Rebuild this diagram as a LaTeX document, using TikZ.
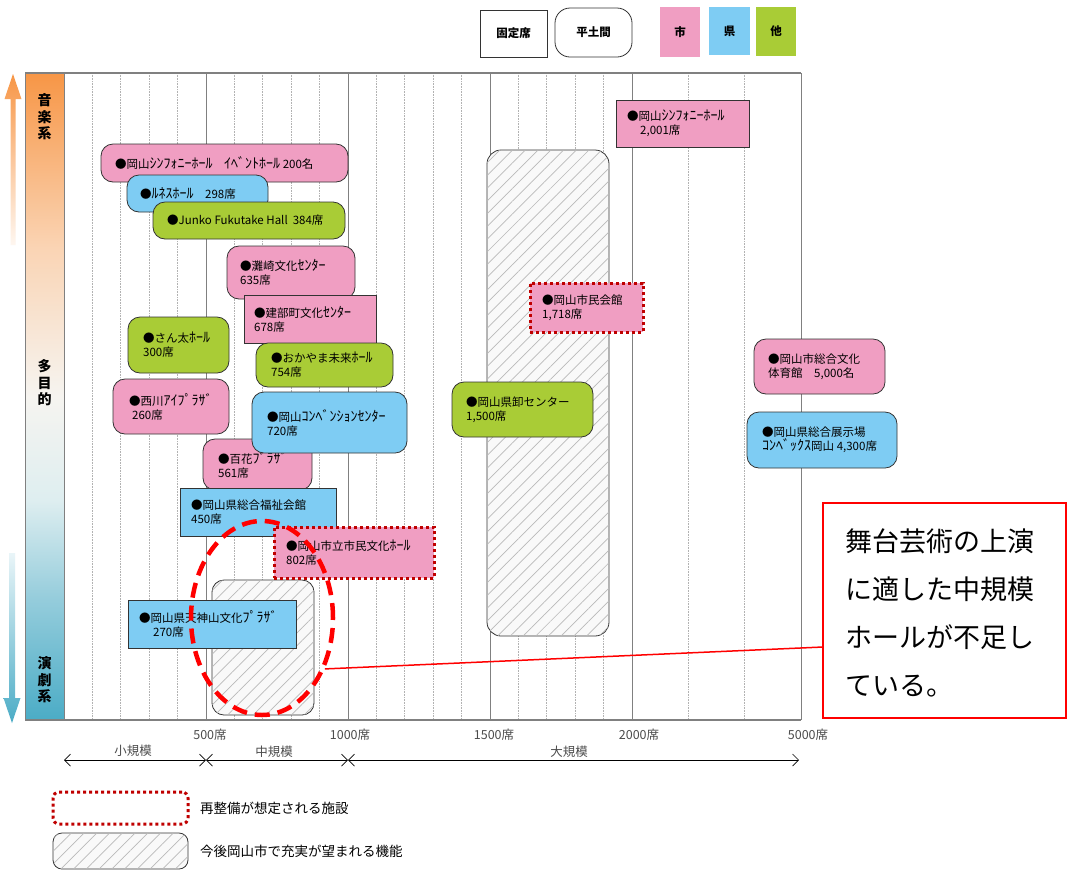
\documentclass[tikz,border=0pt]{standalone}
\usepackage{fontspec}
\setmainfont{Noto Sans CJK JP}
\usetikzlibrary{shapes.geometric,arrows.meta,patterns.meta}
\definecolor{pinkc}{RGB}{240,158,194}
\definecolor{bluec}{RGB}{126,204,243}
\definecolor{greenc}{RGB}{169,204,54}
\definecolor{dred}{RGB}{192,0,0}
\definecolor{orangec}{RGB}{247,150,70}
\definecolor{peachl}{RGB}{250,212,180}
\definecolor{bandw}{RGB}{246,244,240}
\definecolor{teall}{RGB}{222,238,240}
\definecolor{tealm}{RGB}{150,205,220}
\definecolor{tealc}{RGB}{75,172,198}
\pgfdeclareverticalshading{bandshade}{100bp}{color(0bp)=(tealc); color(25bp)=(tealc); color(34.5bp)=(tealm); color(42bp)=(teall); color(50bp)=(bandw); color(61.5bp)=(peachl); color(75bp)=(orangec); color(100bp)=(orangec)}
\tikzset{
  base/.style={draw=black!80, line width=0.8pt, inner sep=0pt, outer sep=0pt},
  pinkr/.style={base, fill=pinkc, rounded corners=12pt},
  bluer/.style={base, fill=bluec, rounded corners=12pt},
  greenr/.style={base, fill=greenc, rounded corners=12pt},
  pinks/.style={base, fill=pinkc},
  blues/.style={base, fill=bluec},
  redot/.style={base, fill=pinkc, draw=dred, line width=3pt, dash pattern=on 3pt off 3pt},
  hatchbox/.style={base, fill=gray!5, rounded corners=12pt,
     postaction={pattern={Lines[angle=45,distance=9pt,line width=0.7pt]}, pattern color=gray!55}},
  lbl/.style={font=\fontsize{11.5}{14}\selectfont, align=left, inner sep=0pt, anchor=west},
  leglbl/.style={font=\fontsize{13.5}{15}\selectfont, inner sep=0pt, anchor=west},
  gridd/.style={draw=gray!60, line width=0.7pt, dash pattern=on 0.8pt off 0.8pt},
  grids/.style={draw=gray, line width=1pt},
  axlbl/.style={font=\fontsize{12.5}{14}\selectfont, text=black!70, inner sep=0pt},
  barb/.style={{Straight Barb[length=6pt,width=12pt]}-{Straight Barb[length=6pt,width=12pt]}, line width=0.7pt},
  legsq/.style={inner sep=0pt, font=\bfseries\fontsize{11.5}{13}\selectfont},
  bandlbl/.style={font=\bfseries\fontsize{14}{16.5}\selectfont, align=center, inner sep=0pt}
}
% half-width katakana run, set a little larger
\newcommand\hk[1]{{\fontsize{14}{14}\selectfont #1}}
% name, style, x1, y1, x2, y2, text-x, text
\newcommand\hall[8]{%
  \node[#2, minimum width={#5-#3}, minimum height={#6-#4}] (#1) at ({(#3+#5)/2},{(#4+#6)/2}) {};
  \node[lbl] (#1t) at (#7,{(#4+#6)/2}) {#8};}
\begin{document}
\begin{tikzpicture}[x=1pt,y=-1pt]
\useasboundingbox[fill=white] (0,0) rectangle (1067,879);
% top legend
\node[base, minimum width=67, minimum height=47, legsq] (lgf) at (513.5,33.5) {固定席};
\node[base, rounded corners=15pt, minimum width=77, minimum height=49, legsq] (lgh) at (593.5,32.5) {平土間};
\node[legsq, fill=pinkc, minimum width=40, minimum height=50] (lgc) at (680,32) {市};
\node[legsq, fill=bluec, minimum width=41, minimum height=48] (lgk) at (729.5,31) {県};
\node[legsq, fill=greenc, minimum width=40, minimum height=49] (lgo) at (776,31.5) {他};
% band
\shade[shading=bandshade] (25,73) rectangle (64,720);
\draw[gray, line width=0.8pt] (25,73) rectangle (64,720);
\node[bandlbl] (bm) at (44.5,117) {音\\楽\\系};
\node[bandlbl] (bt) at (44.5,383) {多\\目\\的};
\node[bandlbl] (bd) at (44.5,680) {演\\劇\\系};
% side arrows
\shade[top color=orangec, bottom color=orangec!8] (13,74) -- (21.5,99) -- (15.5,99) -- (15.5,245) -- (10.5,245) -- (10.5,99) -- (4.5,99) -- cycle;
\shade[top color=tealc!12, bottom color=tealc] (9,553) -- (15,553) -- (15,698) -- (20.5,698) -- (12,723) -- (3.5,698) -- (9,698) -- cycle;
% grid
\foreach \x in {92.4,120.8,149.2,177.6,234.4,262.8,291.2,319.6,376.4,404.8,433.2,461.6,518.4,546.8,575.2,603.6,688.4,744.8}
  \draw[gridd] (\x,73) -- (\x,720);
\foreach \x in {206,348,490,632,801.2}
  \draw[grids] (\x,73) -- (\x,720);
\draw[gray, line width=1.2pt] (25,73) -- (801.2,73);
\draw[gray, line width=1.2pt] (25,720) -- (801.2,720);
% hatched areas
\node[hatchbox, rounded corners=14pt, minimum width=122, minimum height=486] (hlarge) at (548,393) {};
\node[hatchbox, minimum width=102, minimum height=135] (hmid) at (263,647.5) {};
% halls
\hall{n1}{pinkr}{101}{144}{348}{182}{115}{●岡山\hk{ｼﾝﾌｫﾆｰﾎｰﾙ}　\hk{ｲﾍﾞﾝﾄﾎｰﾙ} 200名}
\hall{n2}{bluer}{127}{175}{268}{212}{140}{●\hk{ﾙﾈｽﾎｰﾙ}　298席}
\hall{n3}{greenr}{153}{202}{345}{239}{167}{●Junko Fukutake Hall\hspace{5pt}384席}
\hall{n4}{pinkr}{227}{246}{355}{299}{240}{●灘崎文化\hk{ｾﾝﾀｰ}\\635席}
\hall{n5}{pinks}{244}{295}{376}{343}{254}{●建部町文化\hk{ｾﾝﾀｰ}\\678席}
\hall{n6}{greenr}{128}{317}{229}{373}{143}{●さん太\hk{ﾎｰﾙ}\\300席}
\hall{n7}{greenr}{256}{343}{393}{387}{271}{●おかやま未来\hk{ﾎｰﾙ}\\754席}
\hall{n8}{pinkr}{113}{379}{229}{434}{129}{●西川\hk{ｱｲﾌﾟﾗｻﾞ}\\\hspace*{3pt}260席}
\hall{n10}{pinkr}{203}{439}{312}{490}{218}{●百花\hk{ﾌﾟﾗｻﾞ}\\561席}
\hall{n9}{bluer}{252}{392}{407}{453}{267}{●岡山\hk{ｺﾝﾍﾞﾝｼｮﾝｾﾝﾀｰ}\\720席}
\hall{n11}{blues}{180}{488}{336}{536}{191}{●岡山県総合福祉会館\\450席}
\hall{n12}{redot}{274}{527}{434}{578}{286}{●岡山市立市民文化\hk{ﾎｰﾙ}\\802席}
\hall{n14}{blues}{128}{600}{296}{648}{139}{●岡山県天神山文化\hk{ﾌﾟﾗｻﾞ}\\\hspace*{14pt}270席}
\hall{n18}{pinks}{616}{100}{749}{147}{627}{●岡山\hk{ｼﾝﾌｫﾆｰﾎｰﾙ}\\\hspace*{13pt}2,001席}
\hall{n19}{redot}{530}{283}{643}{332}{542}{●岡山市民会館\\1,718席}
\hall{n20}{greenr}{452}{382}{593}{437}{466}{●岡山県卸センター\\1,500席}
\hall{n21}{pinkr}{754}{339}{885}{394}{768}{●岡山市総合文化\\体育館　5,000名}
\hall{n22}{bluer}{747}{412}{897}{468}{762}{●岡山県総合展示場\\\hk{ｺﾝﾍﾞｯｸｽ}岡山 4,300席}
% ellipse and callout
\node[ellipse, draw=red, line width=4.5pt, dash pattern=on 15pt off 8pt, minimum width=142, minimum height=194, inner sep=0pt] (ell) at (262,618) {};
\node[draw=red, line width=1.8pt, fill=white, minimum width=243, minimum height=215, inner sep=0pt] (callout) at (944.5,610.5) {};
\node[anchor=north west, align=left, inner sep=0pt, font=\fontsize{27}{48}\selectfont] (callt) at (845,528) {舞台芸術の上演\\に適した中規模\\ホールが不足し\\ている。};
\coordinate (cin) at (823,647);
\draw[red, line width=1.5pt] (ell.-39) -- (cin);
% axis labels
\node[axlbl] (a500) at (210,735) {500席};
\node[axlbl] (a1000) at (350,735) {1000席};
\node[axlbl] (a1500) at (494,735) {1500席};
\node[axlbl] (a2000) at (639,735) {2000席};
\node[axlbl] (a5000) at (808,735) {5000席};
% scale arrows
\coordinate (s0) at (64,760);
\coordinate (s1) at (206,760);
\coordinate (s2) at (348,760);
\coordinate (s3) at (799,760);
\draw[barb] (s0) -- (s1);
\draw[barb] (s1) -- (s2);
\draw[barb] (s2) -- (s3);
\node[axlbl] (sm) at (133,751) {小規模};
\node[axlbl] (md) at (274,752) {中規模};
\node[axlbl] (lg) at (569,752) {大規模};
% bottom legend
\node[base, draw=dred, line width=3pt, dash pattern=on 3pt off 3pt, rounded corners=6pt, minimum width=135, minimum height=32] (lgr) at (120.5,808) {};
\node[leglbl] (lgrt) at (200,808) {再整備が想定される施設};
\node[hatchbox, rounded corners=9pt, minimum width=135, minimum height=36] (lgx) at (120.5,851) {};
\node[leglbl] (lgxt) at (200,851) {今後岡山市で充実が望まれる機能};
\end{tikzpicture}
\end{document}
